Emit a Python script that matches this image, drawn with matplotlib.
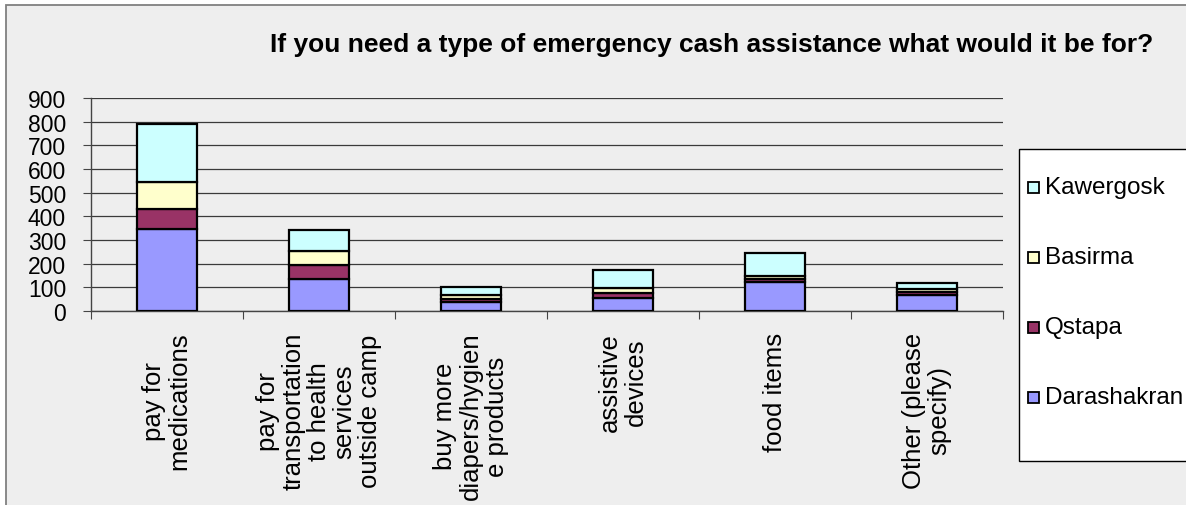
import numpy as np
import matplotlib.pyplot as plt
from matplotlib.patches import Rectangle

plt.rcParams['font.family'] = ['Liberation Sans', 'DejaVu Sans']

# Responses per camp for each type of cash need
categories = ['pay for\nmedications',
              'pay for\ntransportation\nto health\nservices\noutside camp',
              'buy more\ndiapers/hygien\ne products',
              'assistive\ndevices',
              'food items',
              'Other (please\nspecify)']
darashakran = [346, 134, 38, 57, 121, 69]
qstapa = [84, 59, 14, 17, 13, 12]
basirma = [116, 59, 14, 22, 13, 12]
kawergosk = [244, 90, 34, 77, 97, 27]

series = [('Darashakran', darashakran, '#9999FF'),
          ('Qstapa', qstapa, '#993366'),
          ('Basirma', basirma, '#FFFFCC'),
          ('Kawergosk', kawergosk, '#CCFFFF')]

W, H = 1186, 506
bg = '#EEEEEE'
fig = plt.figure(figsize=(W / 100, H / 100), dpi=100)
fig.patch.set_facecolor('white')

def px(x, y):
    return x / W, 1 - y / H

# chart area frame
x0, y0 = px(6, 6)
fig.patches.append(Rectangle((x0, -0.1), 1.2, y0 + 0.1, transform=fig.transFigure,
                             facecolor=bg, edgecolor='#808080', linewidth=1.3,
                             zorder=-1))

# caption line above the chart (only descenders fall inside the image)
fig.text(5 / W, 1 + 6 / H, 'Figure 16: Type of emergency cash assistance',
         fontsize=17, fontweight='bold', va='baseline', ha='left')

ax = fig.add_axes([91 / W, 1 - 312 / H, (1003 - 91) / W, (312 - 99) / H])
ax.set_facecolor(bg)

x = np.arange(len(categories))
bottom = np.zeros(len(categories))
for name, vals, color in series:
    ax.bar(x, vals, width=0.4, bottom=bottom, color=color, edgecolor='black',
           linewidth=1.6, zorder=3)
    bottom += np.array(vals)

ax.set_xlim(-0.5, len(categories) - 0.5)
ax.set_ylim(0, 900)
ax.set_yticks(np.arange(0, 901, 100))
ax.yaxis.grid(True, color='#3a3a3a', linewidth=0.9, zorder=0)
ax.set_axisbelow(True)

ax.set_xticks(np.arange(len(categories) + 1) - 0.5)
ax.set_xticklabels([])
ax.set_xticks(x, minor=True)
ax.set_xticklabels(categories, minor=True, rotation=90, ha='center', va='top',
                   multialignment='center', fontsize=18.5, linespacing=1.08)
ax.tick_params(axis='x', which='minor', length=0, pad=15)
ax.tick_params(axis='x', which='major', length=6, color='#444444', direction='out')
ax.tick_params(axis='y', length=6, color='#444444', direction='out', pad=12,
               labelsize=16.5)

for side in ['top', 'right']:
    ax.spines[side].set_visible(False)
for side in ['left', 'bottom']:
    ax.spines[side].set_color('#444444')
    ax.spines[side].set_linewidth(1.0)

fig.text(*px(712, 45), 'If you need a type of emergency cash assistance what would it be for?',
         fontsize=19, fontweight='bold', ha='center', va='center')

# legend box, top entry is the last series stacked
lx, ly = px(1019, 462)
fig.patches.append(Rectangle((lx, ly), 0.3, (462 - 150) / H, transform=fig.transFigure,
                             facecolor='white', edgecolor='black', linewidth=1.0, zorder=5))
for i, (name, vals, color) in enumerate(reversed(series)):
    yc = 188 + 70 * i
    sx, sy = px(1028, yc + 5.5)
    fig.patches.append(Rectangle((sx, sy), 11 / W, 11 / H, transform=fig.transFigure,
                                 facecolor=color, edgecolor='black', linewidth=1.3, zorder=6))
    fig.text(*px(1045, yc), name, fontsize=17.5, ha='left', va='center', zorder=7)

fig.savefig('out.png', dpi=100, facecolor=fig.get_facecolor())
